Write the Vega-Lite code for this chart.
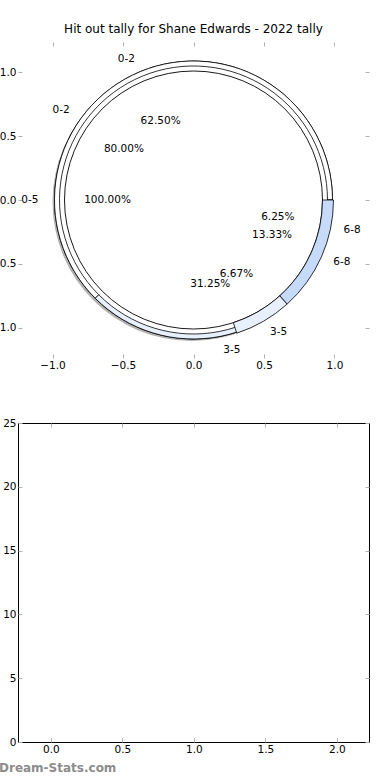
{
  "$schema": "https://vega.github.io/schema/vega-lite/v6.json",
  "background": "white",
  "padding": {"left": -10, "top": 22, "right": 0, "bottom": 0},
  "config": {
    "font": "DejaVu Sans",
    "view": {"stroke": null},
    "axis": {"grid": false, "domain": false, "title": null, "labelFont": "DejaVu Sans", "labelFontSize": 10.5, "labelColor": "black", "tickColor": "#b0b0b0", "tickSize": -4, "tickWidth": 1, "labelPadding": 6, "labelFlush": false, "labelOverlap": false},
    "text": {"fill": "black"},
    "title": {"font": "DejaVu Sans", "fontWeight": "normal", "color": "black"}
  },
  "datasets": {
    "pie": [
      {"ring": "outer", "label": "0-2", "share": 0.625},
      {"ring": "outer", "label": "3-5", "share": 0.3125},
      {"ring": "outer", "label": "6-8", "share": 0.0625},
      {"ring": "middle", "label": "0-2", "share": 0.8},
      {"ring": "middle", "label": "3-5", "share": 0.0667},
      {"ring": "middle", "label": "6-8", "share": 0.1333},
      {"ring": "inner", "label": "0-5", "share": 1.0}
    ]
  },
  "spacing": 65,
  "bounds": "flush",
  "vconcat": [
    {
      "width": 351,
      "height": 316,
      "title": {"text": "Hit out tally for Shane Edwards - 2022 tally", "fontSize": 12, "offset": 6, "anchor": "middle", "frame": "group"},
      "layer": [
        {
          "data": {"values": []},
          "mark": "point",
          "encoding": {
            "x": {"field": "x", "type": "quantitative", "scale": {"domain": [-1.245, 1.245], "nice": false, "zero": false}, "axis": {"orient": "bottom", "values": [-1, -0.5, 0, 0.5, 1], "format": ".1f"}},
            "y": {"field": "y", "type": "quantitative", "scale": {"domain": [-1.235, 1.235], "nice": false, "zero": false}, "axis": {"orient": "left", "values": [-1, -0.5, 0, 0.5, 1], "format": ".1f"}}
          }
        },
        {
          "data": {"values": []},
          "mark": "point",
          "encoding": {
            "x": {"field": "x", "type": "quantitative", "axis": {"orient": "top", "values": [-1, -0.5, 0, 0.5, 1], "labels": false}},
            "y": {"field": "y", "type": "quantitative", "axis": {"orient": "right", "values": [-1, -0.5, 0, 0.5, 1], "labels": false}}
          }
        },
        {
          "data": {"name": "pie"},
          "transform": [{"filter": "datum.ring === 'inner'"}],
          "mark": {"type": "arc", "radius": 139, "radius2": 133, "fill": "#666666", "fillOpacity": 0.5, "xOffset": -2, "yOffset": 2},
          "encoding": {
            "theta": {"field": "share", "type": "quantitative", "stack": true, "scale": {"domain": [0, 1], "range": [1.5708, -4.7124]}}
          }
        },
        {
          "data": {"name": "pie"},
          "transform": [{"filter": "datum.ring === 'inner'"}],
          "mark": {"type": "arc", "radius": 139, "radius2": 129, "stroke": "black", "strokeWidth": 0.9},
          "encoding": {
            "theta": {"field": "share", "type": "quantitative", "stack": true},
            "fill": {"field": "label", "type": "nominal", "scale": {"domain": ["0-2", "3-5", "6-8", "0-5"], "range": ["#ffffff", "#e8f0fd", "#c6dbf9", "#ffffff"]}, "legend": null}
          }
        },
        {
          "data": {"name": "pie"},
          "transform": [{"filter": "datum.ring === 'outer'"}],
          "mark": {"type": "arc", "radius": 139, "radius2": 134, "stroke": "black", "strokeWidth": 0.8},
          "encoding": {
            "theta": {"field": "share", "type": "quantitative", "stack": true},
            "fill": {"field": "label", "type": "nominal", "legend": null},
            "order": {"field": "label"}
          }
        },
        {
          "data": {"name": "pie"},
          "transform": [{"filter": "datum.ring === 'middle'"}],
          "mark": {"type": "arc", "radius": 140, "radius2": 129, "stroke": "black", "strokeWidth": 0.8},
          "encoding": {
            "theta": {"field": "share", "type": "quantitative", "stack": true},
            "fill": {"field": "label", "type": "nominal", "legend": null},
            "fillOpacity": {"condition": {"test": "datum.label === '0-2'", "value": 0}, "value": 1},
            "strokeOpacity": {"condition": {"test": "datum.label === '0-2'", "value": 0}, "value": 1},
            "order": {"field": "label"}
          }
        },
        {
          "data": {"name": "pie"},
          "transform": [{"filter": "datum.ring === 'outer'"}],
          "mark": {"type": "text", "radius": 153, "fontSize": 10.5, "fill": "black", "baseline": "middle", "align": {"expr": "(datum.share_start + datum.share_end) / 2 > 0.25 && (datum.share_start + datum.share_end) / 2 < 0.75 ? 'right' : 'left'"}},
          "encoding": {
            "theta": {"field": "share", "type": "quantitative", "stack": true},
            "text": {"field": "label"},
            "order": {"field": "label"}
          }
        },
        {
          "data": {"name": "pie"},
          "transform": [{"filter": "datum.ring === 'middle'"}],
          "mark": {"type": "text", "radius": 153, "fontSize": 10.5, "fill": "black", "baseline": "middle", "align": {"expr": "(datum.share_start + datum.share_end) / 2 > 0.25 && (datum.share_start + datum.share_end) / 2 < 0.75 ? 'right' : 'left'"}},
          "encoding": {
            "theta": {"field": "share", "type": "quantitative", "stack": true},
            "text": {"field": "label"},
            "order": {"field": "label"}
          }
        },
        {
          "data": {"name": "pie"},
          "transform": [{"filter": "datum.ring === 'inner'"}],
          "mark": {"type": "text", "radius": 155, "fontSize": 10.5, "fill": "black", "baseline": "middle", "align": "right"},
          "encoding": {
            "theta": {"field": "share", "type": "quantitative", "stack": true},
            "text": {"field": "label"}
          }
        },
        {
          "data": {"name": "pie"},
          "transform": [{"filter": "datum.ring === 'outer'"}],
          "mark": {"type": "text", "radius": 86, "fontSize": 10.5, "fill": "black", "baseline": "middle", "align": "center"},
          "encoding": {
            "theta": {"field": "share", "type": "quantitative", "stack": true},
            "text": {"field": "share", "format": ".2%"},
            "order": {"field": "label"}
          }
        },
        {
          "data": {"name": "pie"},
          "transform": [{"filter": "datum.ring === 'middle'"}],
          "mark": {"type": "text", "radius": 86, "fontSize": 10.5, "fill": "black", "baseline": "middle", "align": "center"},
          "encoding": {
            "theta": {"field": "share", "type": "quantitative", "stack": true},
            "text": {"field": "share", "format": ".2%"},
            "order": {"field": "label"}
          }
        },
        {
          "data": {"name": "pie"},
          "transform": [{"filter": "datum.ring === 'inner'"}],
          "mark": {"type": "text", "radius": 86, "fontSize": 10.5, "fill": "black", "baseline": "middle", "align": "center"},
          "encoding": {
            "theta": {"field": "share", "type": "quantitative", "stack": true},
            "text": {"field": "share", "format": ".2%"}
          }
        }
      ],
      "resolve": {"axis": {"x": "independent", "y": "independent"}}
    },
    {
      "width": 351,
      "height": 319,
      "view": {"stroke": "black", "strokeWidth": 1},
      "title": {"text": "Dream-Stats.com", "orient": "bottom", "anchor": "start", "frame": "group", "fontSize": 12, "fontWeight": "bold", "color": "#8c8c8c", "dx": -19, "offset": 8},
      "layer": [
        {
          "data": {"values": []},
          "mark": "point",
          "encoding": {
            "x": {"field": "x", "type": "quantitative", "scale": {"domain": [-0.23, 2.225], "nice": false, "zero": false}, "axis": {"orient": "bottom", "values": [0, 0.5, 1, 1.5, 2], "format": ".1f"}},
            "y": {"field": "y", "type": "quantitative", "scale": {"domain": [0, 25], "nice": false}, "axis": {"orient": "left", "values": [0, 5, 10, 15, 20, 25], "format": "d"}}
          }
        },
        {
          "data": {"values": []},
          "mark": "point",
          "encoding": {
            "x": {"field": "x", "type": "quantitative", "axis": {"orient": "top", "values": [0, 0.5, 1, 1.5, 2], "labels": false}},
            "y": {"field": "y", "type": "quantitative", "axis": {"orient": "right", "values": [0, 5, 10, 15, 20, 25], "labels": false}}
          }
        }
      ],
      "resolve": {"axis": {"x": "independent", "y": "independent"}}
    }
  ]
}
